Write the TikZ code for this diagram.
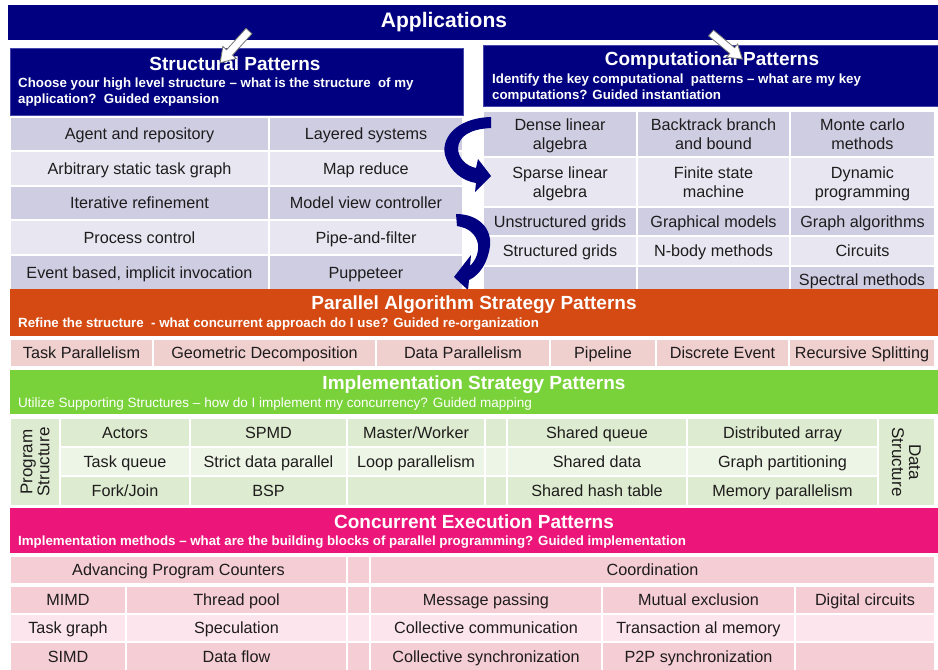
\documentclass[tikz,border=0pt]{standalone}
\usepackage{fontspec}
\setmainfont{Liberation Sans}
\usetikzlibrary{arrows.meta}
\definecolor{navy}{RGB}{0,0,128}
\definecolor{boxline}{RGB}{70,70,170}
\definecolor{lavD}{RGB}{207,205,226}
\definecolor{lavL}{RGB}{232,231,241}
\definecolor{orangebar}{RGB}{213,73,18}
\definecolor{pinkrow}{RGB}{240,207,207}
\definecolor{greenbar}{RGB}{122,210,58}
\definecolor{grnD}{RGB}{221,235,208}
\definecolor{grnL}{RGB}{237,245,231}
\definecolor{magbar}{RGB}{236,22,122}
\definecolor{pnkD}{RGB}{244,205,213}
\definecolor{pnkL}{RGB}{252,229,236}
\definecolor{celltext}{RGB}{30,28,28}
\newcommand\cellfont{\fontsize{16.2}{19}\selectfont}
\newcommand\ttlfont{\fontsize{19}{22}\selectfont\bfseries}
\newcommand\subfont{\fontsize{13.3}{16}\selectfont\bfseries}
\newcommand\cstrut{\rule[-3.5pt]{0pt}{18.5pt}}
\newcommand\cellbox[8][]{%
  \pgfmathsetmacro\cellW{#5-#3}%
  \pgfmathsetmacro\cellH{#6-#4}%
  \node[cellsty,fill=#7,minimum width=\cellW pt,minimum height=\cellH pt,#1] (#2) at ({(#3+#5)/2},{(#4+#6)/2}) {\cstrut#8};}
\tikzset{
  cellsty/.style={draw=white,line width=1.5pt,inner sep=0pt,outer sep=0pt,align=center,font=\cellfont,text=celltext},
  ttl/.style={text=white,font=\ttlfont,inner sep=0pt},
  subt/.style={text=white,font=\subfont,inner sep=0pt,anchor=west,align=left},
  curvefill/.style={fill=navy,draw=none},
  wblock/.pic={\draw[fill=white,draw=black!55,line width=0.8pt] (0,-4) -- (29,-4) -- (29,-9) -- (43,0) -- (29,9) -- (29,4) -- (0,4) -- cycle;}
}
\begin{document}
\begin{tikzpicture}[x=1pt,y=-1pt]
\useasboundingbox (0,0) rectangle (938,670);
\fill[white] (0,0) rectangle (938,670);

% Applications
\cellbox[draw=none]{app}{8}{5}{938}{40}{navy}{}
\node[ttl,font=\fontsize{21}{24}\selectfont\bfseries] (apptxt) at (444,22) {Applications};

% Structural patterns header
\cellbox[draw=boxline,line width=1pt]{sp}{10}{48}{463}{115}{navy}{}
\node[ttl] (sptitle) at (235,64) {Structural Patterns};
\node[subt] (spsub) at (18,92) {Choose your high level structure -- what is the structure\ \ of my\\application?\ \ Guided expansion};

% Computational patterns header
\cellbox[draw=boxline,line width=1pt]{cp}{483}{45}{938}{106}{navy}{}
\node[ttl] (cptitle) at (712,61) {Computational Patterns};
\node[subt] (cpsub) at (492,88) {Identify the key computational\ \ patterns -- what are my key\\computations? Guided instantiation};

% Structural table
\cellbox{s11}{10}{117}{269}{151}{lavD}{Agent and repository}
\cellbox{s12}{269}{117}{463}{151}{lavD}{Layered systems}
\cellbox{s21}{10}{151}{269}{186}{lavL}{Arbitrary static task graph}
\cellbox{s22}{269}{151}{463}{186}{lavL}{Map reduce}
\cellbox{s31}{10}{186}{269}{220}{lavD}{Iterative refinement}
\cellbox{s32}{269}{186}{463}{220}{lavD}{Model view controller}
\cellbox{s41}{10}{220}{269}{255}{lavL}{Process control}
\cellbox{s42}{269}{220}{463}{255}{lavL}{Pipe-and-filter}
\cellbox{s51}{10}{255}{269}{290}{lavD}{Event based, implicit invocation}
\cellbox{s52}{269}{255}{463}{290}{lavD}{Puppeteer}

% Computational table
\cellbox{c11}{483}{111}{637}{157}{lavD}{Dense linear\\\cstrut algebra}
\cellbox{c12}{637}{111}{790}{157}{lavD}{Backtrack branch\\\cstrut and bound}
\cellbox{c13}{790}{111}{935}{157}{lavD}{Monte carlo\\\cstrut methods}
\cellbox{c21}{483}{157}{637}{207}{lavL}{Sparse linear\\\cstrut algebra}
\cellbox{c22}{637}{157}{790}{207}{lavL}{Finite state\\\cstrut machine}
\cellbox{c23}{790}{157}{935}{207}{lavL}{Dynamic\\\cstrut programming}
\cellbox{c31}{483}{207}{637}{236}{lavD}{Unstructured grids}
\cellbox{c32}{637}{207}{790}{236}{lavD}{Graphical models}
\cellbox{c33}{790}{207}{935}{236}{lavD}{Graph algorithms}
\cellbox{c41}{483}{236}{637}{266}{lavL}{Structured grids}
\cellbox{c42}{637}{236}{790}{266}{lavL}{N-body methods}
\cellbox{c43}{790}{236}{935}{266}{lavL}{Circuits}
\cellbox{c51}{483}{266}{637}{296}{lavD}{}
\cellbox{c52}{637}{266}{790}{296}{lavD}{}
\cellbox{c53}{790}{266}{935}{296}{lavD}{}
\node[font=\cellfont,text=celltext,inner sep=0pt] (c53txt) at (862,280) {\cstrut Spectral methods};

% Curved arrows (filled, tapered)
\coordinate (a1s) at (491,117);
\coordinate (a1tip) at (491,176);
\fill[curvefill] (a1s) .. controls (455,118) and (439,140) .. (446,158)
  .. controls (451,172) and (463,181) .. (476,183) -- (475,192) -- (a1tip) -- (478,159) -- (476,168)
  .. controls (466,166) and (458,158) .. (458,148)
  .. controls (459,136) and (470,129) .. (491,128) -- cycle;
\coordinate (a2s) at (456,214);
\coordinate (a2tip) at (454,277);
\fill[curvefill] (a2s) .. controls (478,214) and (492,228) .. (490,246)
  .. controls (488,262) and (480,275) .. (469,280) -- (468,290) -- (a2tip) -- (471,255) -- (470,266)
  .. controls (476,260) and (479,252) .. (478,244)
  .. controls (476,234) and (469,228) .. (457,226) -- cycle;

% Parallel algorithm strategy
\cellbox[draw=none]{pa}{10}{289}{938}{336}{orangebar}{}
\node[ttl] (patitle) at (474,305) {Parallel Algorithm Strategy Patterns};
\node[subt] (pasub) at (18,324) {Refine the structure\ \ - what concurrent approach do I use? Guided re-organization};
\cellbox{p1}{10}{339}{153}{367}{pinkrow}{Task Parallelism}
\cellbox{p2}{153}{339}{376}{367}{pinkrow}{Geometric Decomposition}
\cellbox{p3}{376}{339}{550}{367}{pinkrow}{Data Parallelism}
\cellbox{p4}{550}{339}{656}{367}{pinkrow}{Pipeline}
\cellbox{p5}{656}{339}{789}{367}{pinkrow}{Discrete Event}
\cellbox{p6}{789}{339}{935}{367}{pinkrow}{Recursive Splitting}

% Implementation strategy
\cellbox[draw=none]{is}{10}{370}{938}{414}{greenbar}{}
\node[ttl] (istitle) at (474,385) {Implementation Strategy Patterns};
\node[subt,font=\fontsize{13.5}{16}\selectfont] (issub) at (18,404) {Utilize Supporting Structures -- how do I implement my concurrency? Guided mapping};
\cellbox{ips}{10}{418}{60}{506}{grnD}{}
\node[rotate=90,align=center,font=\fontsize{17}{17}\selectfont,text=celltext] (ipstxt) at (ips) {Program\\Structure};
\cellbox{i11}{60}{418}{190}{447}{grnD}{Actors}
\cellbox{i12}{190}{418}{347}{447}{grnD}{SPMD}
\cellbox{i13}{347}{418}{485}{447}{grnD}{Master/Worker}
\cellbox{i14}{485}{418}{507}{447}{grnD}{}
\cellbox{i15}{507}{418}{687}{447}{grnD}{Shared queue}
\cellbox{i16}{687}{418}{878}{447}{grnD}{Distributed array}
\cellbox{i21}{60}{447}{190}{476}{grnL}{Task queue}
\cellbox{i22}{190}{447}{347}{476}{grnL}{Strict data parallel}
\cellbox{i23}{347}{447}{485}{476}{grnL}{Loop parallelism}
\cellbox{i24}{485}{447}{507}{476}{grnL}{}
\cellbox{i25}{507}{447}{687}{476}{grnL}{Shared data}
\cellbox{i26}{687}{447}{878}{476}{grnL}{Graph partitioning}
\cellbox{i31}{60}{476}{190}{506}{grnD}{Fork/Join}
\cellbox{i32}{190}{476}{347}{506}{grnD}{BSP}
\cellbox{i33}{347}{476}{485}{506}{grnD}{}
\cellbox{i34}{485}{476}{507}{506}{grnD}{}
\cellbox{i35}{507}{476}{687}{506}{grnD}{Shared hash table}
\cellbox{i36}{687}{476}{878}{506}{grnD}{Memory parallelism}
\cellbox{ids}{878}{418}{935}{506}{grnD}{}
\node[rotate=-90,align=center,font=\fontsize{17}{17}\selectfont,text=celltext] (idstxt) at (ids) {Data\\Structure};

% Concurrent execution
\cellbox[draw=none]{ce}{10}{508}{938}{553}{magbar}{}
\node[ttl] (cetitle) at (474,522) {Concurrent Execution Patterns};
\node[subt] (cesub) at (18,542) {Implementation methods -- what are the building blocks of parallel programming? Guided implementation};
\cellbox{eh1}{10}{556}{347}{584}{pnkD}{Advancing Program Counters}
\cellbox{eh2}{347}{556}{370}{584}{pnkD}{}
\cellbox{eh3}{370}{556}{935}{584}{pnkD}{Coordination}
\cellbox{e11}{10}{586}{126}{614}{pnkD}{MIMD}
\cellbox{e12}{126}{586}{347}{614}{pnkD}{Thread pool}
\cellbox{e13}{347}{586}{370}{614}{pnkD}{}
\cellbox{e14}{370}{586}{602}{614}{pnkD}{Message passing}
\cellbox{e15}{602}{586}{795}{614}{pnkD}{Mutual exclusion}
\cellbox{e16}{795}{586}{935}{614}{pnkD}{Digital circuits}
\cellbox{e21}{10}{614}{126}{642}{pnkL}{Task graph}
\cellbox{e22}{126}{614}{347}{642}{pnkL}{Speculation}
\cellbox{e23}{347}{614}{370}{642}{pnkL}{}
\cellbox{e24}{370}{614}{602}{642}{pnkL}{Collective communication}
\cellbox{e25}{602}{614}{795}{642}{pnkL}{Transaction al memory}
\cellbox{e26}{795}{614}{935}{642}{pnkL}{}
\cellbox{e31}{10}{642}{126}{672}{pnkD}{SIMD}
\cellbox{e32}{126}{642}{347}{672}{pnkD}{Data flow}
\cellbox{e33}{347}{642}{370}{672}{pnkD}{}
\cellbox{e34}{370}{642}{602}{672}{pnkD}{Collective synchronization}
\cellbox{e35}{602}{642}{795}{672}{pnkD}{P2P synchronization}
\cellbox{e36}{795}{642}{935}{672}{pnkD}{}

% White block arrows
\coordinate (w1) at (249,31);
\coordinate (w2) at (711,33);
\pic[rotate=227.8] at (w1) {wblock};
\pic[rotate=-39.8,scale=0.95] at (w2) {wblock};
\end{tikzpicture}
\end{document}
